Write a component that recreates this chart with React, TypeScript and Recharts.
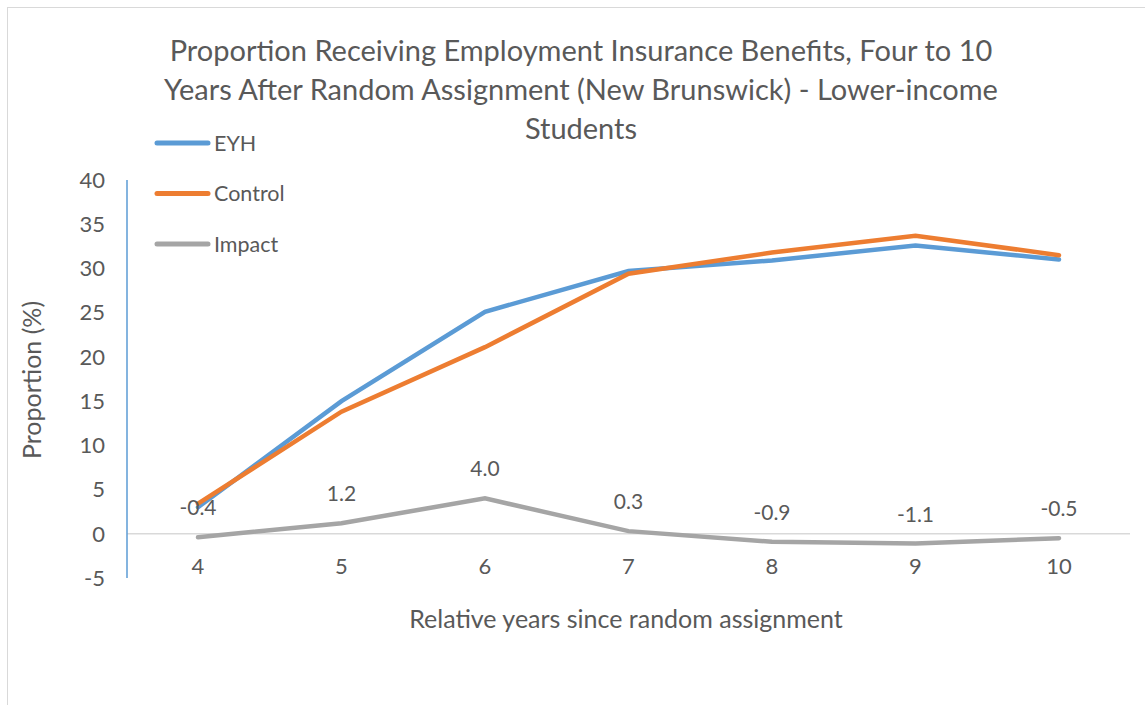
import { LineChart, Line, XAxis, YAxis, ReferenceLine, LabelList } from "recharts";

const years = [4, 5, 6, 7, 8, 9, 10];
const eyh = [3.0, 15.0, 25.1, 29.7, 30.9, 32.6, 31.0];
const control = [3.4, 13.8, 21.1, 29.4, 31.8, 33.7, 31.5];
const impact = [-0.4, 1.2, 4.0, 0.3, -0.9, -1.1, -0.5];
const yTicks = [-5, 0, 5, 10, 15, 20, 25, 30, 35, 40];

const titleLines = [
  "Proportion Receiving Employment Insurance Benefits, Four to 10",
  "Years After Random Assignment (New Brunswick) - Lower-income",
  "Students",
];

const legendItems = [
  { name: "EYH", color: "#5b9bd5" },
  { name: "Control", color: "#ed7d31" },
  { name: "Impact", color: "#a5a5a5" },
];

const data = years.map((y, i) => ({ year: y, eyh: eyh[i], control: control[i], impact: impact[i] }));

const FONT = "Lato, 'Open Sans', sans-serif";
const TEXT = "#595959";

function XTick({ x, y, payload }: any) {
  return (
    <text x={x} y={y - 4} textAnchor="middle" fill={TEXT} fontSize={22} fontFamily={FONT}>
      {payload.value}
    </text>
  );
}

export default function App() {
  return (
    <div style={{ position: "absolute", left: 0, top: 0, width: 1145, height: 705, overflow: "hidden", background: "#fff" }}>
      <div style={{ position: "absolute", left: 7, top: 7, width: 1160, height: 720, border: "1px solid #d9d9d9" }} />
      <div style={{ position: "absolute", left: 0, top: 0 }}>
        <LineChart width={1145} height={705} data={data} margin={{ top: 180, right: 15, left: 0, bottom: 0 }}>
          <XAxis
            dataKey="year"
            height={127}
            axisLine={false}
            tickLine={false}
            tickSize={0}
            tickMargin={0}
            tick={<XTick />}
            interval={0}
            padding={{ left: 71, right: 71 }}
          />
          <YAxis
            width={127}
            domain={[-5, 40]}
            ticks={yTicks}
            axisLine={{ stroke: "#5b9bd5", strokeWidth: 1.5 }}
            tickLine={false}
            tickMargin={16}
            tick={{ fill: TEXT, fontSize: 22, fontFamily: FONT }}
            interval={0}
          />
          <ReferenceLine y={0} stroke="#d9d9d9" strokeWidth={1.5} />
          <Line dataKey="eyh" stroke="#5b9bd5" strokeWidth={4.5} dot={false} isAnimationActive={false} strokeLinecap="round" />
          <Line dataKey="control" stroke="#ed7d31" strokeWidth={4.5} dot={false} isAnimationActive={false} strokeLinecap="round" />
          <Line dataKey="impact" stroke="#a5a5a5" strokeWidth={4.5} dot={false} isAnimationActive={false} strokeLinecap="round">
            <LabelList dataKey="impact" position="top" offset={22} fill={TEXT} fontSize={21} fontFamily={FONT} formatter={(v: any) => Number(v).toFixed(1)} />
          </Line>
        </LineChart>
      </div>
      <svg style={{ position: "absolute", left: 0, top: 0 }} width={1145} height={705}>
        {titleLines.map((t, i) => (
          <text key={i} x={581} y={61 + i * 39} textAnchor="middle" fill={TEXT} fontSize={29} fontFamily={FONT}>
            {t}
          </text>
        ))}
        {legendItems.map((it, i) => (
          <g key={it.name}>
            <line x1={157} x2={208} y1={143 + i * 50.5} y2={143 + i * 50.5} stroke={it.color} strokeWidth={5} strokeLinecap="round" />
            <text x={214} y={150.5 + i * 50.5} fill={TEXT} fontSize={21.5} fontFamily={FONT}>
              {it.name}
            </text>
          </g>
        ))}
        <text transform="translate(41,380) rotate(-90)" textAnchor="middle" fill={TEXT} fontSize={25} fontFamily={FONT}>
          Proportion (%)
        </text>
        <text x={626} y={628} textAnchor="middle" fill={TEXT} fontSize={25} fontFamily={FONT}>
          Relative years since random assignment
        </text>
      </svg>
    </div>
  );
}
